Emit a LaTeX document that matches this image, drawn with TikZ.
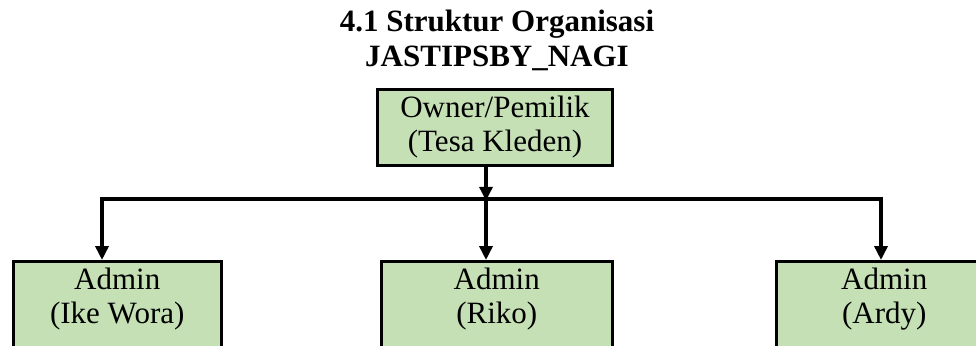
\documentclass[tikz,border=0pt]{standalone}
\usepackage{fontspec}
\setmainfont{Liberation Serif}
\usetikzlibrary{arrows.meta}
\definecolor{boxgreen}{HTML}{C5E0B4}
\tikzset{
  box/.style={draw=black, fill=boxgreen, line width=2.5pt, inner sep=0pt},
  lbl/.style={align=center, inner sep=0pt, font=\fontsize{31}{34}\selectfont},
  conn/.style={line width=3.5pt, draw=black},
  arr/.style={conn, -{Triangle[width=13pt,length=14pt]}},
}
\begin{document}
\begin{tikzpicture}[x=1pt,y=-1pt]
\clip (0,0) rectangle (976,345);
\useasboundingbox (0,0) rectangle (976,345);
% title
\node[lbl, anchor=north, font=\fontsize{31}{35}\selectfont\bfseries] (title) at (497,10)
  {4.1 Struktur Organisasi\\JASTIPSBY\_NAGI};
% owner
\node[box, line width=3pt, minimum width=235pt, minimum height=76pt, anchor=north west] (owner) at (376,88) {};
\node[lbl, anchor=north] (ownert) at ([yshift=-8pt]owner.north) {Owner/Pemilik\\(Tesa Kleden)};
% admins
\node[box, minimum width=208pt, minimum height=110pt, anchor=north west] (a1) at (12,260) {};
\node[lbl, anchor=north] (a1t) at ([yshift=-8pt]a1.north) {Admin\\(Ike Wora)};
\node[box, minimum width=231pt, minimum height=110pt, anchor=north west] (a2) at (380,260) {};
\node[lbl, anchor=north] (a2t) at ([yshift=-8pt]a2.north) {Admin\\(Riko)};
\node[box, minimum width=216pt, minimum height=110pt, anchor=north west] (a3) at (775,260) {};
\node[lbl, anchor=north] (a3t) at ([yshift=-8pt]a3.north) {Admin\\(Ardy)};
% connectors
\coordinate (jc) at (486,199);
\coordinate (jl) at (102,199);
\coordinate (jr) at (881,199);
\draw[conn] ([xshift=-1.75pt]jl) -- ([xshift=1.75pt]jr);
\draw[arr] (owner.south -| jc) -- ([yshift=-1.75pt]jc);
\draw[arr] (jl) -- (jl |- a1.north);
\draw[arr] (jc) -- (jc |- a2.north);
\draw[arr] (jr) -- (jr |- a3.north);
\end{tikzpicture}
\end{document}
